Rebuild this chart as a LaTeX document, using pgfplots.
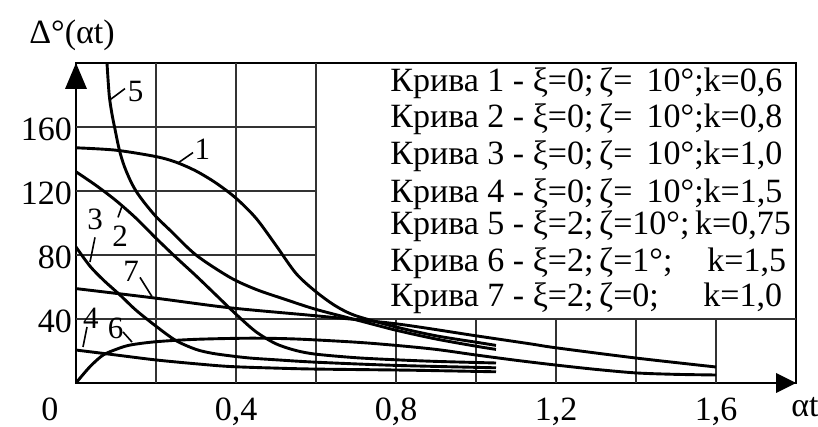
\documentclass[border=0pt]{standalone}
\usepackage{fontspec}
\setmainfont{Liberation Serif}
\usepackage{pgfplots}
\pgfplotsset{compat=1.18}
\usetikzlibrary{arrows.meta}
\newcommand{\fs}{\fontsize{17}{20}\selectfont}
\newcommand{\fl}{\fontsize{15.5}{18}\selectfont}
\pgfplotsset{cv/.style={black, solid, line width=1.45pt, smooth, mark=none}}
\begin{document}
\begin{tikzpicture}
\begin{axis}[name=ax, scale only axis, width=360pt, height=160pt,
  xmin=0, xmax=1.8, ymin=0, ymax=200,
  axis line style={line width=1.2pt},
  xtick={0.4,0.8,1.2,1.6}, xticklabels={{0,4},{0,8},{1,2},{1,6}},
  extra x ticks={0}, extra x tick labels={0},
  extra x tick style={xticklabel style={xshift=-13pt}},
  ytick={40,80,120,160},
  major tick length=0pt,
  tick label style={font=\fs},
  /pgf/number format/assume math mode=true,
  xticklabel style={yshift=-4pt},
  yticklabel style={xshift=1.5pt, yshift=-1pt},
  clip mode=individual,
]
% grid
\draw[line width=0.9pt, black!80] (axis cs:0,40) -- (axis cs:1.8,40);
\draw[line width=0.9pt, black!80] (axis cs:0,80) -- (axis cs:0.6,80);
\draw[line width=0.9pt, black!80] (axis cs:0,120) -- (axis cs:0.6,120);
\draw[line width=0.9pt, black!80] (axis cs:0,160) -- (axis cs:0.6,160);
\draw[line width=0.9pt, black!80] (axis cs:0.2,0) -- (axis cs:0.2,200);
\draw[line width=0.9pt, black!80] (axis cs:0.4,0) -- (axis cs:0.4,200);
\draw[line width=0.9pt, black!80] (axis cs:0.6,0) -- (axis cs:0.6,200);
\draw[line width=0.9pt, black!80] (axis cs:0.8,0) -- (axis cs:0.8,40);
\draw[line width=0.9pt, black!80] (axis cs:1.0,0) -- (axis cs:1.0,40);
\draw[line width=0.9pt, black!80] (axis cs:1.2,0) -- (axis cs:1.2,40);
\draw[line width=0.9pt, black!80] (axis cs:1.4,0) -- (axis cs:1.4,40);
\draw[line width=0.9pt, black!80] (axis cs:1.6,0) -- (axis cs:1.6,40);

% curve 1
\addplot[cv] coordinates {(0,147) (0.1,145.5) (0.2,141.5) (0.25,138) (0.3,132.5) (0.35,125) (0.4,115.5) (0.45,103) (0.5,86) (0.55,68.5) (0.6,57) (0.65,48) (0.7,42) (0.8,35) (0.9,29.5) (1.0,25.5) (1.05,23.5)};
% curve 2
\addplot[cv] coordinates {(0,132) (0.05,123.5) (0.1,114) (0.15,103) (0.2,90.5) (0.25,78.5) (0.3,67) (0.35,55) (0.4,43) (0.45,32) (0.5,24.5) (0.55,20.3) (0.6,18) (0.7,15.8) (0.8,14.5) (0.9,13.5) (1.05,12.5)};
% curve 3
\addplot[cv] coordinates {(0,85) (0.035,73) (0.07,64) (0.11,55) (0.15,45.5) (0.2,35.5) (0.25,26.5) (0.3,21) (0.34,18.6) (0.385,17) (0.435,15.6) (0.5,14.5) (0.6,13) (0.8,11) (1.05,9.5)};
% curve 4
\addplot[cv] coordinates {(0,20.6) (0.1,17.5) (0.2,14.4) (0.3,12) (0.385,10.3) (0.5,9.3) (0.6,8.7) (0.835,8) (1.05,7)};
% curve 5
\addplot[cv] coordinates {(0.0775,200) (0.083,180) (0.09,168) (0.098,158) (0.108,146) (0.12,136) (0.135,127) (0.15,120) (0.17,113) (0.2,104) (0.235,95.5) (0.3,80) (0.385,66) (0.45,58.5) (0.52,52.5) (0.6,46) (0.7,39.5) (0.8,33) (0.9,27.5) (1.0,23) (1.05,21)};
% curve 6
\addplot[cv] coordinates {(0,0) (0.02,6) (0.04,11.5) (0.068,17.5) (0.1,21) (0.135,23.7) (0.2,25.8) (0.3,27.3) (0.435,28) (0.55,27.5) (0.7,25.5) (0.8,23.5) (0.9,21) (1.0,17.5) (1.1,14.2) (1.2,11.2) (1.3,8.5) (1.4,6.3) (1.5,5.4) (1.6,5)};
% curve 7
\addplot[cv] coordinates {(0,59) (0.2,53) (0.385,47) (0.6,42) (0.8,37) (1.0,29.5) (1.135,24.5) (1.2,22) (1.4,15.6) (1.6,10)};

% curve labels and leaders
\draw[line width=0.8pt] (axis cs:0.085,177) -- (axis cs:0.1225,184);
\node[font=\fl] at (axis cs:0.149,182) {5};
\draw[line width=0.8pt] (axis cs:0.255,137.5) -- (axis cs:0.2925,144);
\node[font=\fl] at (axis cs:0.316,146) {1};
\draw[line width=0.8pt] (axis cs:0.035,75.6) -- (axis cs:0.0475,91);
\node[font=\fl] at (axis cs:0.0475,102) {3};
\draw[line width=0.8pt] (axis cs:0.115,110.5) -- (axis cs:0.105,103.5);
\node[font=\fl] at (axis cs:0.11,92) {2};
\draw[line width=0.8pt] (axis cs:0.16,66) -- (axis cs:0.19,54);
\node[font=\fl] at (axis cs:0.1375,69.5) {7};
\draw[line width=0.8pt] (axis cs:0.0175,22.5) -- (axis cs:0.0275,35);
\node[font=\fl] at (axis cs:0.0375,40.6) {4};
\draw[line width=0.8pt] (axis cs:0.1175,31.9) -- (axis cs:0.14,25.6);
\node[font=\fl] at (axis cs:0.099,34.4) {6};

% legend text
\node[anchor=base west, font=\fs, inner sep=0pt] at (axis cs:0.785,181.9) {Крива 1 - ξ=0;\,ζ= \,10°;k=0,6};
\node[anchor=base west, font=\fs, inner sep=0pt] at (axis cs:0.785,159.4) {Крива 2 - ξ=0;\,ζ= \,10°;k=0,8};
\node[anchor=base west, font=\fs, inner sep=0pt] at (axis cs:0.785,136.3) {Крива 3 - ξ=0;\,ζ= \,10°;k=1,0};
\node[anchor=base west, font=\fs, inner sep=0pt] at (axis cs:0.785,113.1) {Крива 4 - ξ=0;\,ζ= \,10°;k=1,5};
\node[anchor=base west, font=\fs, inner sep=0pt] at (axis cs:0.785,92.5) {Крива 5 - ξ=2;\,ζ=10°;\,k=0,75};
\node[anchor=base west, font=\fs, inner sep=0pt] at (axis cs:0.785,69.4) {Крива 6 - ξ=2;\,ζ=1°;};
\node[anchor=base west, font=\fs, inner sep=0pt] at (axis cs:1.5775,69.4) {k=1,5};
\node[anchor=base west, font=\fs, inner sep=0pt] at (axis cs:0.785,47.5) {Крива 7 - ξ=2;\,ζ=0;};
\node[anchor=base west, font=\fs, inner sep=0pt] at (axis cs:1.5675,47.5) {k=1,0};

% axis labels
\node[font=\fs, anchor=center] at (axis cs:0,200) [xshift=-2pt, yshift=14pt] {Δ°(αt)};
\node[font=\fs, anchor=center] at (axis cs:1.8,0) [xshift=4.5pt, yshift=-12pt] {αt};

% arrows
\fill (axis cs:0,200) -- ++(-5.5pt,-13pt) -- ++(11pt,0pt) -- cycle;
\fill (axis cs:1.8,0) -- ++(-10pt,-5pt) -- ++(0pt,10pt) -- cycle;
\end{axis}
\pgfresetboundingbox
\path (ax.south west) ++(-38pt,-22pt) rectangle ++(409pt,213.5pt);
\end{tikzpicture}
\end{document}
